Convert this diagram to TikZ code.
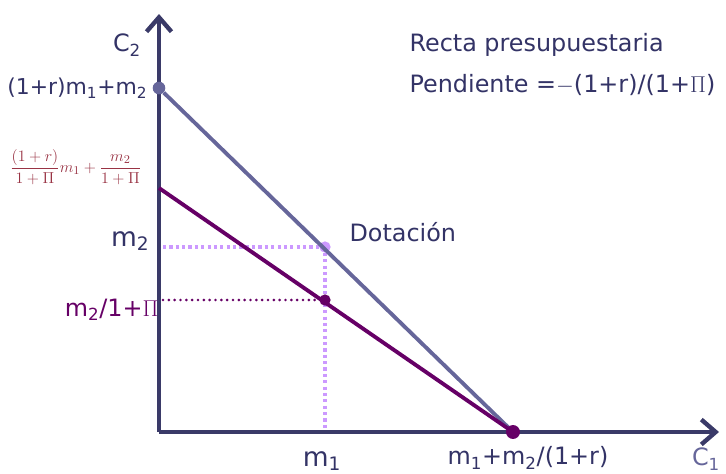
\documentclass[tikz,border=0pt]{standalone}
\usepackage{fontspec}
\setmainfont{DejaVu Sans}
\usetikzlibrary{arrows.meta,positioning}
\definecolor{ejes}{HTML}{3A3A68}
\definecolor{rectaA}{HTML}{66669A}
\definecolor{rectaB}{HTML}{660066}
\definecolor{lila}{HTML}{CC99FF}
\definecolor{texto}{HTML}{333366}
\definecolor{granate}{HTML}{993344}
\newcommand\ix[1]{\textsubscript{#1}}

\begin{document}
\begin{tikzpicture}[x=0.0265cm,y=-0.0265cm,
  axis/.style={draw=ejes,line width=3.3pt,
    -{Straight Barb[length=3.8mm,width=6.6mm,line width=3.3pt]}},
  budget/.style={line width=2.9pt},
  guide/.style={line width=2.6pt,dash pattern=on 2.4pt off 2.4pt},
  dot/.style={circle,inner sep=0pt,minimum size=#1},
  lab/.style={font=\fontsize{18}{21}\selectfont,text=texto,inner sep=1pt}
]
  \useasboundingbox (0,0) rectangle (726,473);
  % ejes
  \coordinate (o) at (159,432);
  \coordinate (ytop) at (159,14);
  \coordinate (xend) at (719,432);
  \draw[axis] (o)--(ytop);
  \draw[axis] (o)--(xend);
  % guias
  \node[dot=8.5pt,fill=lila] (dot) at (325,247) {};
  \coordinate (ym2) at (163,247);
  \coordinate (yp) at (163,300);
  \coordinate (xm1) at (325,430);
  \draw[guide,draw=lila] (ym2)--(dot);
  \draw[guide,draw=lila] (dot)--(xm1);
  % rectas
  \node[dot=9.5pt,fill=rectaA] (a) at (159,88) {};
  \coordinate (b) at (159,188);
  \coordinate (c) at (513,432);
  \draw[budget,draw=rectaA] (a)--(c);
  \draw[budget,draw=rectaB] (b)--(c);
  \node[dot=10.5pt,fill=rectaB] (cdot) at (c) {};
  \node[dot=8.5pt,fill=rectaB] (p) at (325,300) {};
  \draw[draw=rectaB,line width=2.2pt,line cap=round,dash pattern=on 0pt off 4.4pt] (yp)--(p);
  % etiquetas
  \node[lab] (c2) at (127,45) {C\ix2};
  \node[lab,anchor=east,font=\fontsize{16.5}{20}\selectfont] (la) at (149,88) {(1+r)m\ix1+m\ix2};
  \node[text=granate,anchor=east,font=\fontsize{13}{15}\selectfont] (lb) at (146,167)
    {$\displaystyle\frac{(1+r)}{1+\Pi}m_1+\frac{m_2}{1+\Pi}$};
  \node[lab,anchor=east,font=\fontsize{20}{24}\selectfont] (lm2) at (151,241) {m\ix2};
  \node[lab,anchor=east,text=rectaB] (lp) at (160,310) {m\ix2/1+$\Pi$};
  \node[lab,anchor=west] (ldot) at (348,232) {Dotación};
  \node[lab,anchor=west] (l1) at (408,45) {Recta presupuestaria};
  \node[lab,anchor=west] (l2) at (408,85) {Pendiente =$-$(1+r)/(1+$\Pi$)};
  \node[lab,font=\fontsize{20}{24}\selectfont] (lm1) at (322,461) {m\ix1};
  \node[lab] (lc) at (528,458) {m\ix1+m\ix2/(1+r)};
  \node[lab,text=rectaA] (c1) at (706,459) {C\ix1};
\end{tikzpicture}
\end{document}
